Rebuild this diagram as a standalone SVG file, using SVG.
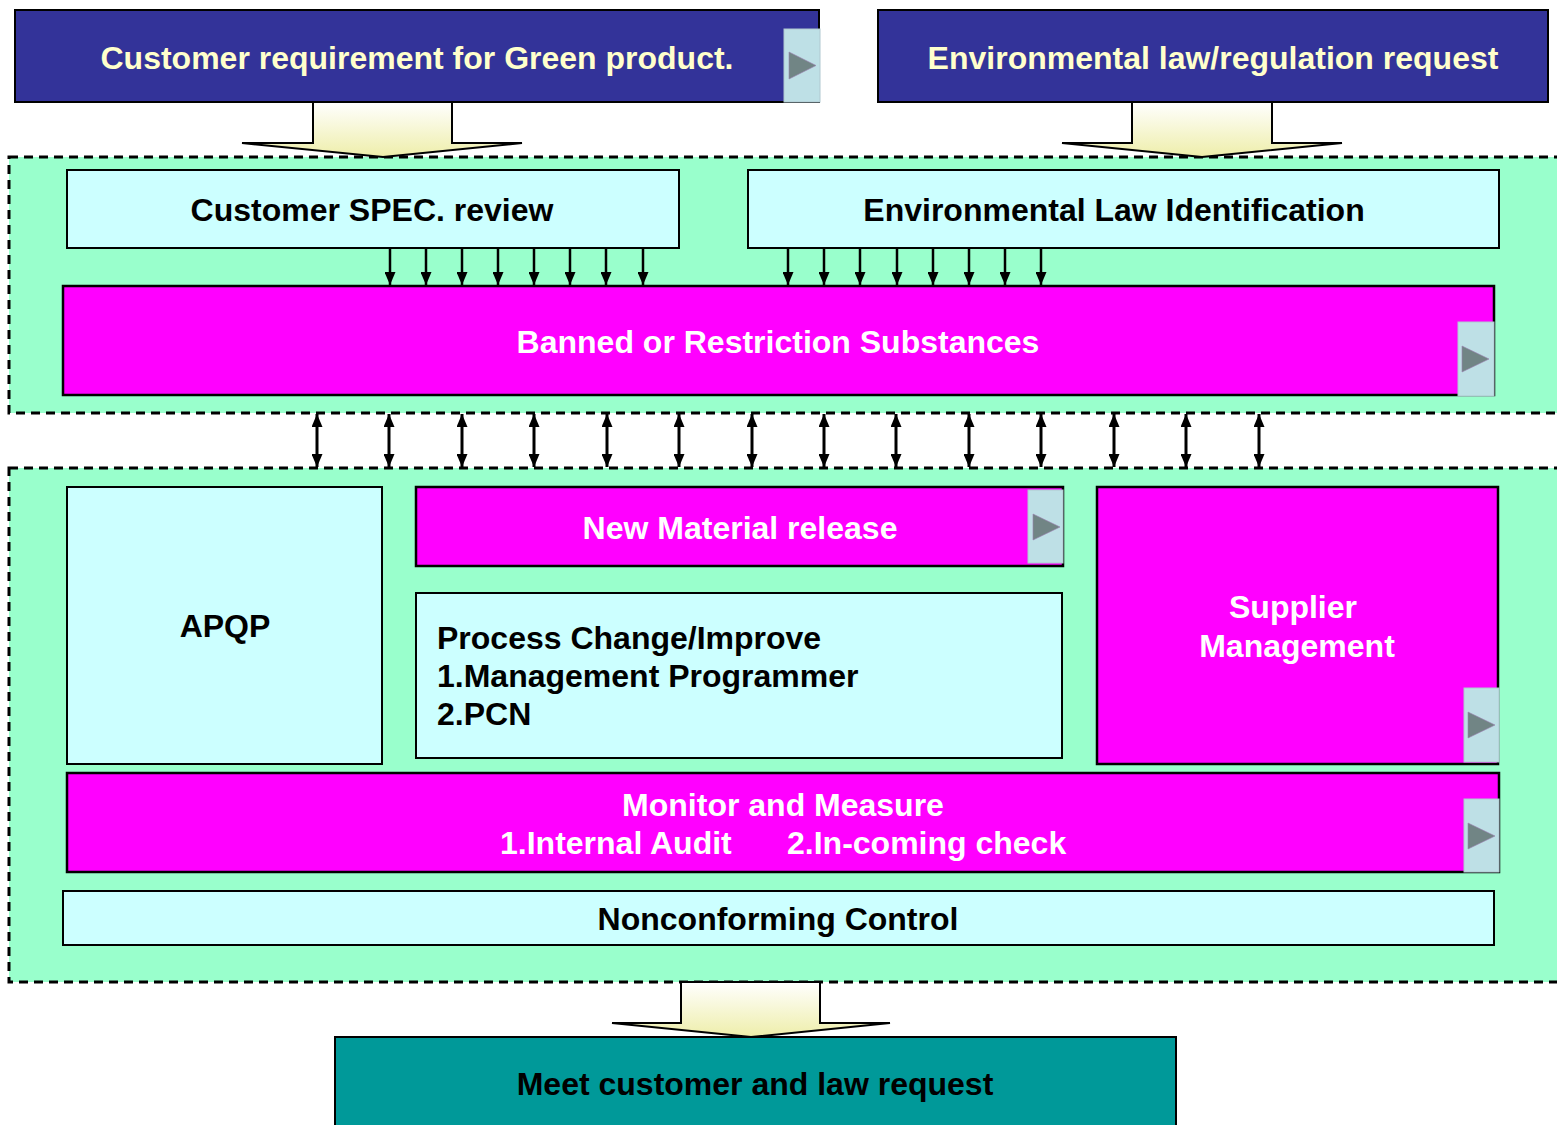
<svg xmlns="http://www.w3.org/2000/svg" width="1557" height="1125" viewBox="0 0 1557 1125">
<style>
text{font-family:"Liberation Sans",Arial,sans-serif;font-weight:bold;font-size:32px}
.c{text-anchor:middle}
.hdr{fill:#333399;stroke:#000;stroke-width:2}
.cyan{fill:#CCFFFF;stroke:#000;stroke-width:2}
.mag{fill:#FF00FF;stroke:#000;stroke-width:2.5}
.region{fill:#99FFCC;stroke:#000;stroke-width:3;stroke-dasharray:9 6}
.blk{fill:url(#yg);stroke:#000;stroke-width:2}
.play{fill:#BEE0E6;stroke:#B0C8D0;stroke-width:1}
.tri{fill:#718585;stroke:#9a80b0;stroke-width:0.6}
.yt{fill:#FFFFCC}
.wt{fill:#FFFFFF}
.bt{fill:#000000}
.sa{stroke:#000;stroke-width:2.5;fill:none;marker-end:url(#ah)}
.da{stroke:#000;stroke-width:3;fill:none;marker-start:url(#ah2s);marker-end:url(#ah2)}
</style>
<defs>
<linearGradient id="yg" x1="0" y1="0" x2="0" y2="1">
<stop offset="0" stop-color="#FFFFFF"/>
<stop offset="1" stop-color="#EEEEAA"/>
</linearGradient>
<marker id="ah" markerUnits="userSpaceOnUse" markerWidth="13" markerHeight="11" viewBox="0 0 13 11" refX="13" refY="5.5" orient="auto">
<path d="M0,0 L13,5.5 L0,11 Z" fill="#000"/>
</marker>
<marker id="ah2" markerUnits="userSpaceOnUse" markerWidth="13" markerHeight="11" viewBox="0 0 13 11" refX="13" refY="5.5" orient="auto">
<path d="M0,0 L13,5.5 L0,11 Z" fill="#000"/>
</marker>
<marker id="ah2s" markerUnits="userSpaceOnUse" markerWidth="13" markerHeight="11" viewBox="0 0 13 11" refX="13" refY="5.5" orient="auto-start-reverse">
<path d="M0,0 L13,5.5 L0,11 Z" fill="#000"/>
</marker>
</defs>

<g id="region-top"><rect class="region" x="9" y="157" width="1560" height="256"/></g>
<g id="region-bottom"><rect class="region" x="9" y="468" width="1560" height="514"/></g>

<g id="customer-requirement">
<rect class="hdr" x="15" y="10" width="804" height="92"/>
<text class="c yt" x="417" y="69">Customer requirement for Green product.</text>
<rect class="play" x="784" y="29" width="36" height="73"/>
<polygon class="tri" points="789,52 816,65.5 789,79"/>
</g>

<g id="env-law-request">
<rect class="hdr" x="878" y="10" width="670" height="92"/>
<text class="c yt" x="1213" y="69">Environmental law/regulation request</text>
</g>

<g id="connectors">
<path class="blk" d="M313,102 L452,102 L452,143 L522,143 L383,157 L242,143 L313,143 Z"/>
<path class="blk" d="M1132,102 L1272,102 L1272,143 L1342,143 L1202,157 L1062,143 L1132,143 Z"/>
<g>
<line class="sa" x1="390" y1="249" x2="390" y2="285"/>
<line class="sa" x1="426" y1="249" x2="426" y2="285"/>
<line class="sa" x1="462" y1="249" x2="462" y2="285"/>
<line class="sa" x1="498" y1="249" x2="498" y2="285"/>
<line class="sa" x1="534" y1="249" x2="534" y2="285"/>
<line class="sa" x1="570" y1="249" x2="570" y2="285"/>
<line class="sa" x1="606" y1="249" x2="606" y2="285"/>
<line class="sa" x1="643" y1="249" x2="643" y2="285"/>
<line class="sa" x1="788" y1="249" x2="788" y2="285"/>
<line class="sa" x1="824" y1="249" x2="824" y2="285"/>
<line class="sa" x1="860" y1="249" x2="860" y2="285"/>
<line class="sa" x1="897" y1="249" x2="897" y2="285"/>
<line class="sa" x1="933" y1="249" x2="933" y2="285"/>
<line class="sa" x1="969" y1="249" x2="969" y2="285"/>
<line class="sa" x1="1005" y1="249" x2="1005" y2="285"/>
<line class="sa" x1="1041" y1="249" x2="1041" y2="285"/>
</g>
<g>
<line class="da" x1="317" y1="414" x2="317" y2="467"/>
<line class="da" x1="389" y1="414" x2="389" y2="467"/>
<line class="da" x1="462" y1="414" x2="462" y2="467"/>
<line class="da" x1="534" y1="414" x2="534" y2="467"/>
<line class="da" x1="607" y1="414" x2="607" y2="467"/>
<line class="da" x1="679" y1="414" x2="679" y2="467"/>
<line class="da" x1="752" y1="414" x2="752" y2="467"/>
<line class="da" x1="824" y1="414" x2="824" y2="467"/>
<line class="da" x1="896" y1="414" x2="896" y2="467"/>
<line class="da" x1="969" y1="414" x2="969" y2="467"/>
<line class="da" x1="1041" y1="414" x2="1041" y2="467"/>
<line class="da" x1="1114" y1="414" x2="1114" y2="467"/>
<line class="da" x1="1186" y1="414" x2="1186" y2="467"/>
<line class="da" x1="1259" y1="414" x2="1259" y2="467"/>
</g>
<path class="blk" d="M681,982 L820,982 L820,1023 L890,1023 L751,1037 L612,1023 L681,1023 Z"/>
</g>

<g id="customer-spec-review">
<rect class="cyan" x="67" y="170" width="612" height="78"/>
<text class="c bt" x="372" y="221">Customer SPEC. review</text>
</g>

<g id="env-law-identification">
<rect class="cyan" x="748" y="170" width="751" height="78"/>
<text class="c bt" x="1114" y="221">Environmental Law Identification</text>
</g>

<g id="banned-substances">
<rect class="mag" x="63" y="286" width="1431" height="109"/>
<text class="c wt" x="778" y="353">Banned or Restriction Substances</text>
<rect class="play" x="1458" y="322" width="36" height="74"/>
<polygon class="tri" points="1462,346 1489,359 1462,372"/>
</g>

<g id="apqp">
<rect class="cyan" x="67" y="487" width="315" height="277"/>
<text class="c bt" x="225" y="637">APQP</text>
</g>

<g id="new-material-release">
<rect class="mag" x="416" y="487" width="647" height="79"/>
<text class="c wt" x="740" y="539">New Material release</text>
<rect class="play" x="1028" y="490" width="35" height="73"/>
<polygon class="tri" points="1033,514 1060,527 1033,540"/>
</g>

<g id="process-change">
<rect class="cyan" x="416" y="593" width="646" height="165"/>
<text class="bt" x="437" y="649">Process Change/Improve</text>
<text class="bt" x="437" y="687">1.Management Programmer</text>
<text class="bt" x="437" y="725">2.PCN</text>
</g>

<g id="supplier-management">
<rect class="mag" x="1097" y="487" width="401" height="277"/>
<text class="c wt" x="1293" y="618">Supplier</text>
<text class="c wt" x="1297" y="657">Management</text>
<rect class="play" x="1464" y="688" width="35" height="74"/>
<polygon class="tri" points="1468,712 1495,725 1468,738"/>
</g>

<g id="monitor-measure">
<rect class="mag" x="67" y="773" width="1432" height="99"/>
<text class="c wt" x="783" y="816">Monitor and Measure</text>
<text class="wt" y="854"><tspan x="500">1.Internal Audit</tspan><tspan x="787">2.In-coming check</tspan></text>
<rect class="play" x="1464" y="799" width="35" height="73"/>
<polygon class="tri" points="1468,823 1495,836 1468,849"/>
</g>

<g id="nonconforming-control">
<rect class="cyan" x="63" y="891" width="1431" height="54"/>
<text class="c bt" x="778" y="930">Nonconforming Control</text>
</g>

<g id="meet-request">
<rect x="335" y="1037" width="841" height="100" fill="#009999" stroke="#000" stroke-width="2"/>
<text class="c bt" x="755" y="1095">Meet customer and law request</text>
</g>
</svg>
